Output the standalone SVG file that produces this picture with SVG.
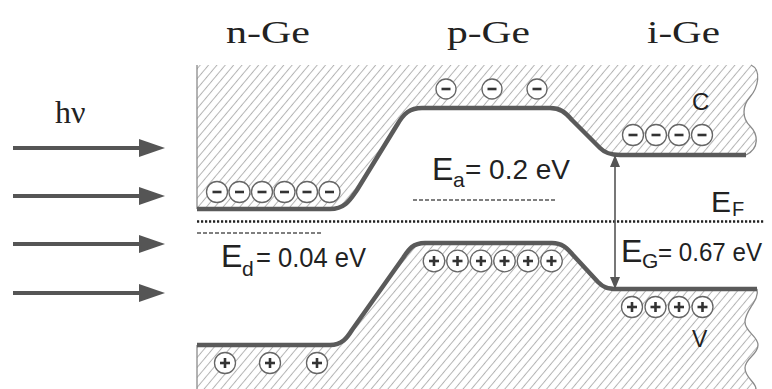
<svg xmlns="http://www.w3.org/2000/svg" width="772" height="389" viewBox="0 0 772 389">
<defs>
<pattern id="hatch" width="6.4" height="8" patternUnits="userSpaceOnUse" patternTransform="rotate(40)">
<line x1="3.2" y1="-1" x2="3.2" y2="9" stroke="#b3b3b3" stroke-width="1"/>
</pattern>
<style>
.serif{font-family:"Liberation Serif","Times New Roman",serif;fill:#222}
.sans{font-family:"Liberation Sans",Arial,sans-serif;fill:#222}
.band{stroke:#5a5a5a;stroke-width:4.5;fill:none;stroke-linejoin:round}
.edge{stroke:#8a8a8a;stroke-width:1.3;fill:none}
.chg circle{fill:#fff;stroke:#666;stroke-width:1.3}
.chg line{stroke:#333;stroke-width:2.6}
.ray{stroke:#555;stroke-width:4}
.rayhead{fill:#555}
</style>
<marker id="ah" viewBox="0 0 12 10" refX="11" refY="5" markerWidth="12" markerHeight="10" markerUnits="userSpaceOnUse" orient="auto-start-reverse">
<path d="M0,0 L12,5 L0,10 Z" fill="#555"/>
</marker>
</defs>
<rect width="772" height="389" fill="#fff"/>

<g id="titles">
<text class="serif" x="226" y="43" font-size="31" textLength="84" lengthAdjust="spacingAndGlyphs">n-Ge</text>
<text class="serif" x="447" y="43" font-size="31" textLength="83" lengthAdjust="spacingAndGlyphs">p-Ge</text>
<text class="serif" x="647" y="43" font-size="31" textLength="73" lengthAdjust="spacingAndGlyphs">i-Ge</text>
</g>

<g id="light">
<text class="serif" x="55" y="123" font-size="32">hν</text>
<line class="ray" x1="13" y1="148" x2="142" y2="148"/>
<polygon class="rayhead" points="139,139 165,148 139,157"/>
<line class="ray" x1="13" y1="196" x2="142" y2="196"/>
<polygon class="rayhead" points="139,187 165,196 139,205"/>
<line class="ray" x1="13" y1="244" x2="142" y2="244"/>
<polygon class="rayhead" points="139,235 165,244 139,253"/>
<line class="ray" x1="13" y1="293" x2="142" y2="293"/>
<polygon class="rayhead" points="139,284 165,293 139,302"/>
</g>

<g id="conduction-band">
<path fill="url(#hatch)" d="M197,65 L751,65 C762,70 758,88 750,97 C742,106 742,118 750,126 C758,134 760,148 746,155 L620,155 C610,155 605,153 600,148 L572,120 C565,112 560,108 550,108 L422,108 C410,108 404,113 397,125 L357,190 C350,200 345,209 330,209 L197,209 Z"/>
<path class="edge" d="M197,65 L197,209"/>
<path class="edge" d="M751,65 C762,70 758,88 750,97 C742,106 742,118 750,126 C758,134 760,148 746,155"/>
<path class="band" d="M197,209 L330,209 C345,209 350,200 357,190 L397,125 C404,113 410,108 422,108 L550,108 C560,108 565,112 572,120 L600,148 C605,153 610,155 620,155 L746,155"/>
<text class="sans" x="692" y="110" font-size="24">C</text>
</g>

<g id="valence-band">
<path fill="url(#hatch)" d="M197,345 L330,345 C342,345 347,338 352,330 L403,258 C409,249 413,243 425,243 L552,243 C562,243 567,248 573,255 L598,282 C603,287 607,289 617,289 L757,289 C760,300 745,310 745,322 C745,332 758,336 758,345 C758,355 745,358 745,368 C745,378 756,382 756,389 L197,389 Z"/>
<path class="edge" d="M197,345 L197,389"/>
<path class="edge" d="M757,289 C760,300 745,310 745,322 C745,332 758,336 758,345 C758,355 745,358 745,368 C745,378 756,382 756,389"/>
<path class="band" d="M197,345 L330,345 C342,345 347,338 352,330 L403,258 C409,249 413,243 425,243 L552,243 C562,243 567,248 573,255 L598,282 C603,287 607,289 617,289 L757,289"/>
<text class="sans" x="692" y="347" font-size="23">V</text>
</g>

<g id="electrons" class="chg">
<circle cx="217" cy="192" r="10.5"/><line x1="212.5" y1="192" x2="221.5" y2="192"/>
<circle cx="239.5" cy="192" r="10.5"/><line x1="235" y1="192" x2="244" y2="192"/>
<circle cx="262" cy="192" r="10.5"/><line x1="257.5" y1="192" x2="266.5" y2="192"/>
<circle cx="284.5" cy="192" r="10.5"/><line x1="280" y1="192" x2="289" y2="192"/>
<circle cx="307" cy="192" r="10.5"/><line x1="302.5" y1="192" x2="311.5" y2="192"/>
<circle cx="329.5" cy="192" r="10.5"/><line x1="325" y1="192" x2="334" y2="192"/>
<circle cx="446" cy="89" r="10"/><line x1="441.5" y1="89" x2="450.5" y2="89"/>
<circle cx="492" cy="89" r="10"/><line x1="487.5" y1="89" x2="496.5" y2="89"/>
<circle cx="537" cy="89" r="10"/><line x1="532.5" y1="89" x2="541.5" y2="89"/>
<circle cx="633" cy="135" r="10.5"/><line x1="628.5" y1="135" x2="637.5" y2="135"/>
<circle cx="656" cy="135" r="10.5"/><line x1="651.5" y1="135" x2="660.5" y2="135"/>
<circle cx="679" cy="135" r="10.5"/><line x1="674.5" y1="135" x2="683.5" y2="135"/>
<circle cx="702" cy="135" r="10.5"/><line x1="697.5" y1="135" x2="706.5" y2="135"/>
</g>

<g id="holes" class="chg">
<circle cx="434" cy="261" r="10.8"/><line x1="429" y1="261" x2="439" y2="261"/><line x1="434" y1="256" x2="434" y2="266"/>
<circle cx="457.5" cy="261" r="10.8"/><line x1="452.5" y1="261" x2="462.5" y2="261"/><line x1="457.5" y1="256" x2="457.5" y2="266"/>
<circle cx="481" cy="261" r="10.8"/><line x1="476" y1="261" x2="486" y2="261"/><line x1="481" y1="256" x2="481" y2="266"/>
<circle cx="504.5" cy="261" r="10.8"/><line x1="499.5" y1="261" x2="509.5" y2="261"/><line x1="504.5" y1="256" x2="504.5" y2="266"/>
<circle cx="528" cy="261" r="10.8"/><line x1="523" y1="261" x2="533" y2="261"/><line x1="528" y1="256" x2="528" y2="266"/>
<circle cx="551.5" cy="261" r="10.8"/><line x1="546.5" y1="261" x2="556.5" y2="261"/><line x1="551.5" y1="256" x2="551.5" y2="266"/>
<circle cx="632" cy="307" r="10.5"/><line x1="627" y1="307" x2="637" y2="307"/><line x1="632" y1="302" x2="632" y2="312"/>
<circle cx="655.5" cy="307" r="10.5"/><line x1="650.5" y1="307" x2="660.5" y2="307"/><line x1="655.5" y1="302" x2="655.5" y2="312"/>
<circle cx="679" cy="307" r="10.5"/><line x1="674" y1="307" x2="684" y2="307"/><line x1="679" y1="302" x2="679" y2="312"/>
<circle cx="702.5" cy="307" r="10.5"/><line x1="697.5" y1="307" x2="707.5" y2="307"/><line x1="702.5" y1="302" x2="702.5" y2="312"/>
<circle cx="225" cy="363" r="10.5"/><line x1="220" y1="363" x2="230" y2="363"/><line x1="225" y1="358" x2="225" y2="368"/>
<circle cx="270" cy="363" r="10.5"/><line x1="265" y1="363" x2="275" y2="363"/><line x1="270" y1="358" x2="270" y2="368"/>
<circle cx="317" cy="363" r="10.5"/><line x1="312" y1="363" x2="322" y2="363"/><line x1="317" y1="358" x2="317" y2="368"/>
</g>

<g id="levels">
<line x1="197" y1="221.5" x2="764" y2="221.5" stroke="#222" stroke-width="2.6" stroke-dasharray="2.2 1.8"/>
<line x1="197" y1="233" x2="323" y2="233" stroke="#555" stroke-width="1.3" stroke-dasharray="4 2"/>
<line x1="413" y1="200" x2="557" y2="200" stroke="#555" stroke-width="1.3" stroke-dasharray="4 2"/>
</g>

<g id="connectors">
<line x1="615" y1="156" x2="615" y2="288" stroke="#555" stroke-width="1.6" marker-start="url(#ah)" marker-end="url(#ah)"/>
</g>

<g id="labels">
<text class="sans" x="432" y="180" font-size="32">E</text>
<text class="sans" x="453" y="187" font-size="21">a</text>
<text class="sans" x="465" y="179" font-size="28" textLength="105" lengthAdjust="spacingAndGlyphs">= 0.2 eV</text>
<text class="sans" x="221" y="267" font-size="32">E</text>
<text class="sans" x="242" y="276" font-size="21">d</text>
<text class="sans" x="256" y="267" font-size="28" textLength="110" lengthAdjust="spacingAndGlyphs">= 0.04 eV</text>
<text class="sans" x="621" y="262" font-size="32">E</text>
<text class="sans" x="642" y="268" font-size="21">G</text>
<text class="sans" x="658" y="261" font-size="26" textLength="104" lengthAdjust="spacingAndGlyphs">= 0.67 eV</text>
<text class="sans" x="711" y="212" font-size="30">E</text>
<text class="sans" x="732" y="216" font-size="20">F</text>
</g>
</svg>
